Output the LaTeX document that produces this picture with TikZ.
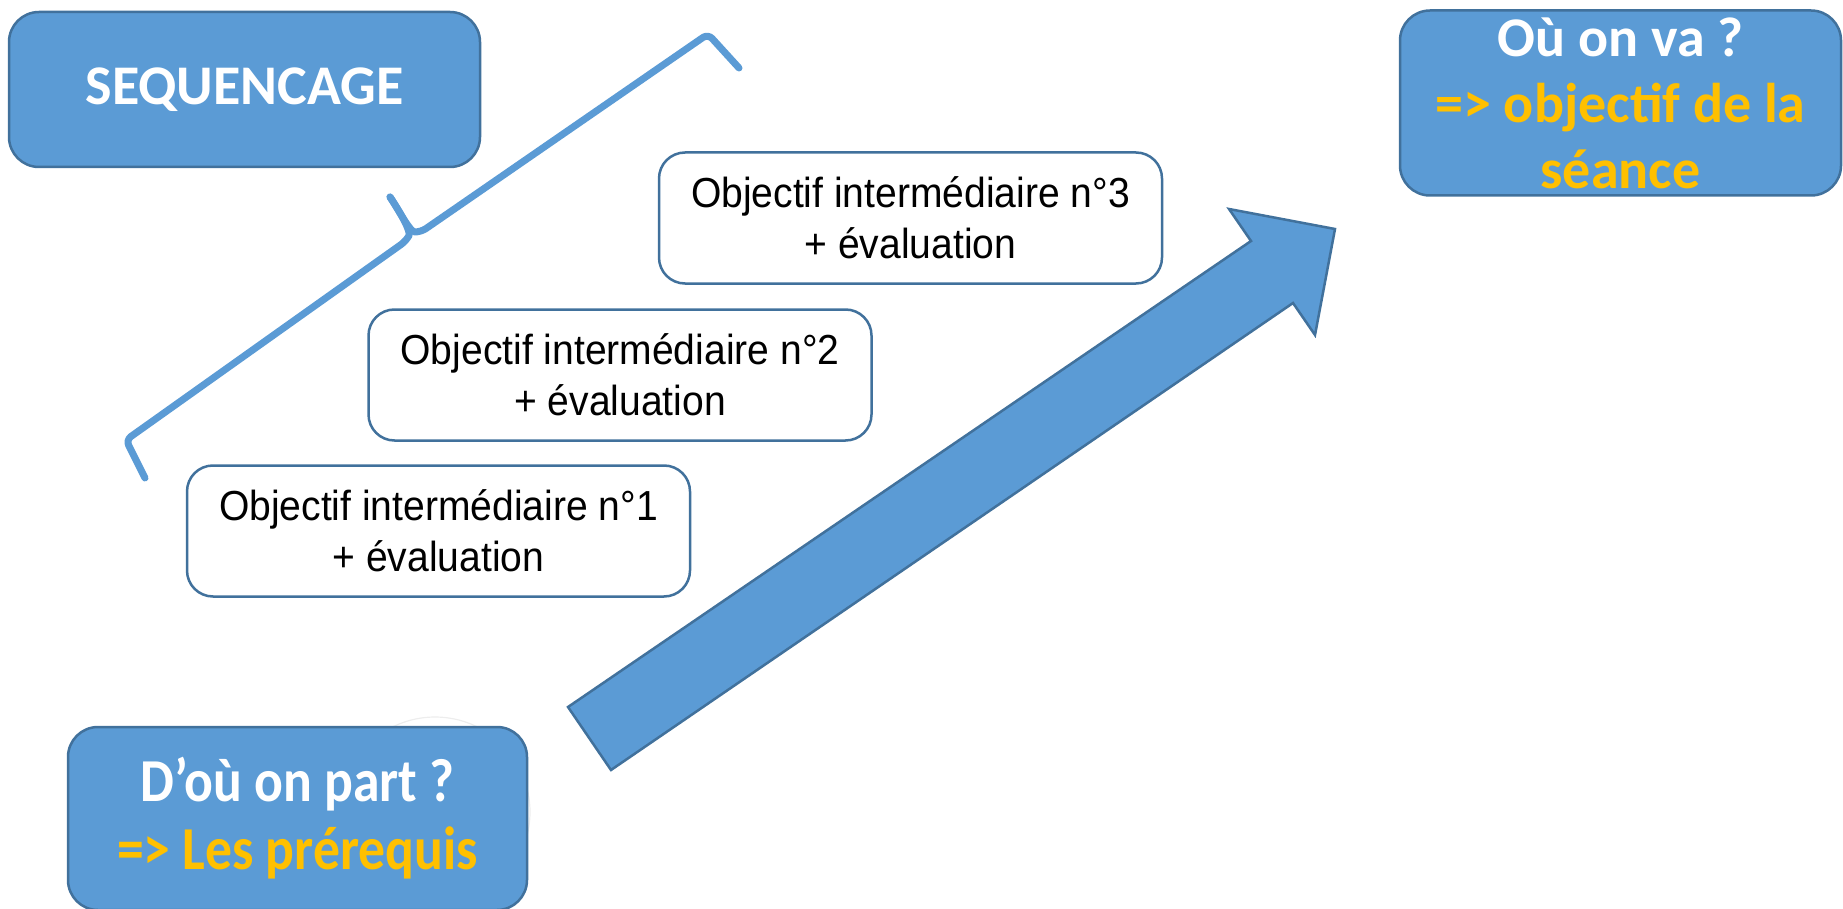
\documentclass[tikz,border=0pt]{standalone}
\usepackage{fontspec}
\setmainfont{Liberation Sans}
\newfontfamily\boxfont{Carlito}
\newfontfamily\narrowboxfont{Carlito}[FakeStretch=0.88]
\newfontfamily\objfont{Liberation Sans}[FakeStretch=0.93]
\definecolor{bluefill}{HTML}{5B9BD5}
\definecolor{blueline}{HTML}{41719C}
\definecolor{gold}{HTML}{FFC000}
\tikzset{
  bluebox/.style={draw=blueline, fill=bluefill, line width=2.5pt, rounded corners=30pt, inner sep=0pt,
    align=center, text=white, font=\boxfont\bfseries\fontsize{56}{66}\selectfont},
  objbox/.style={draw=blueline, fill=white, line width=2.5pt, rounded corners=26pt,
    minimum width=503pt, minimum height=131pt, inner sep=0pt, align=center,
    font=\objfont\fontsize{42}{51}\selectfont},
  bracketline/.style={draw=bluefill, line width=7pt, line cap=round, line join=round},
  bigarrow/.style={draw=blueline, fill=bluefill, line width=2.5pt}
}
\begin{document}
\begin{tikzpicture}[x=1pt,y=-1pt]
\useasboundingbox (0,0) rectangle (1843,909);
% faint circle behind start box
\draw[gray!14, line width=1.2pt] (435,812) circle (95);
% brace
\draw[bracketline, rounded corners=6pt] (145,478) -- (126,440) -- (406,241) .. controls (411,232) and (402,215) .. (390,197);
\draw[bracketline, rounded corners=6pt] (390,197) .. controls (400,212) and (410,232) .. (421,232) -- (708,34) -- (739,68);
% objective boxes
\node[objbox] (obj1) at (438.5,531) {Objectif intermédiaire n°1\\+ évaluation};
\node[objbox] (obj2) at (620,375) {Objectif intermédiaire n°2\\+ évaluation};
\node[objbox] (obj3) at (910.5,218) {Objectif intermédiaire n°3\\+ évaluation};
% blue boxes
\node[bluebox, minimum width=471pt, minimum height=155pt] (seq) at (244.5,89.5) {SEQUENCAGE};
\node[bluebox, minimum width=441pt, minimum height=185pt] (goal) at (1620.5,103)
  {Où on va ?\\\textcolor{gold}{=> objectif de la}\\\textcolor{gold}{séance}};
\node[bluebox, minimum width=459pt, minimum height=183pt,
  font=\narrowboxfont\bfseries\fontsize{61}{68}\selectfont] (start) at (297.5,818.5)
  {D’où on part ?\\\textcolor{gold}{=> Les prérequis}};
% big arrow
\coordinate (t1) at (568,707);
\coordinate (t2) at (611,770);
\draw[bigarrow] (t1) -- (1251,241) -- (1229,209) -- (1335,229) -- (1315,335) -- (1293,303) -- (t2) -- cycle;
\end{tikzpicture}
\end{document}
